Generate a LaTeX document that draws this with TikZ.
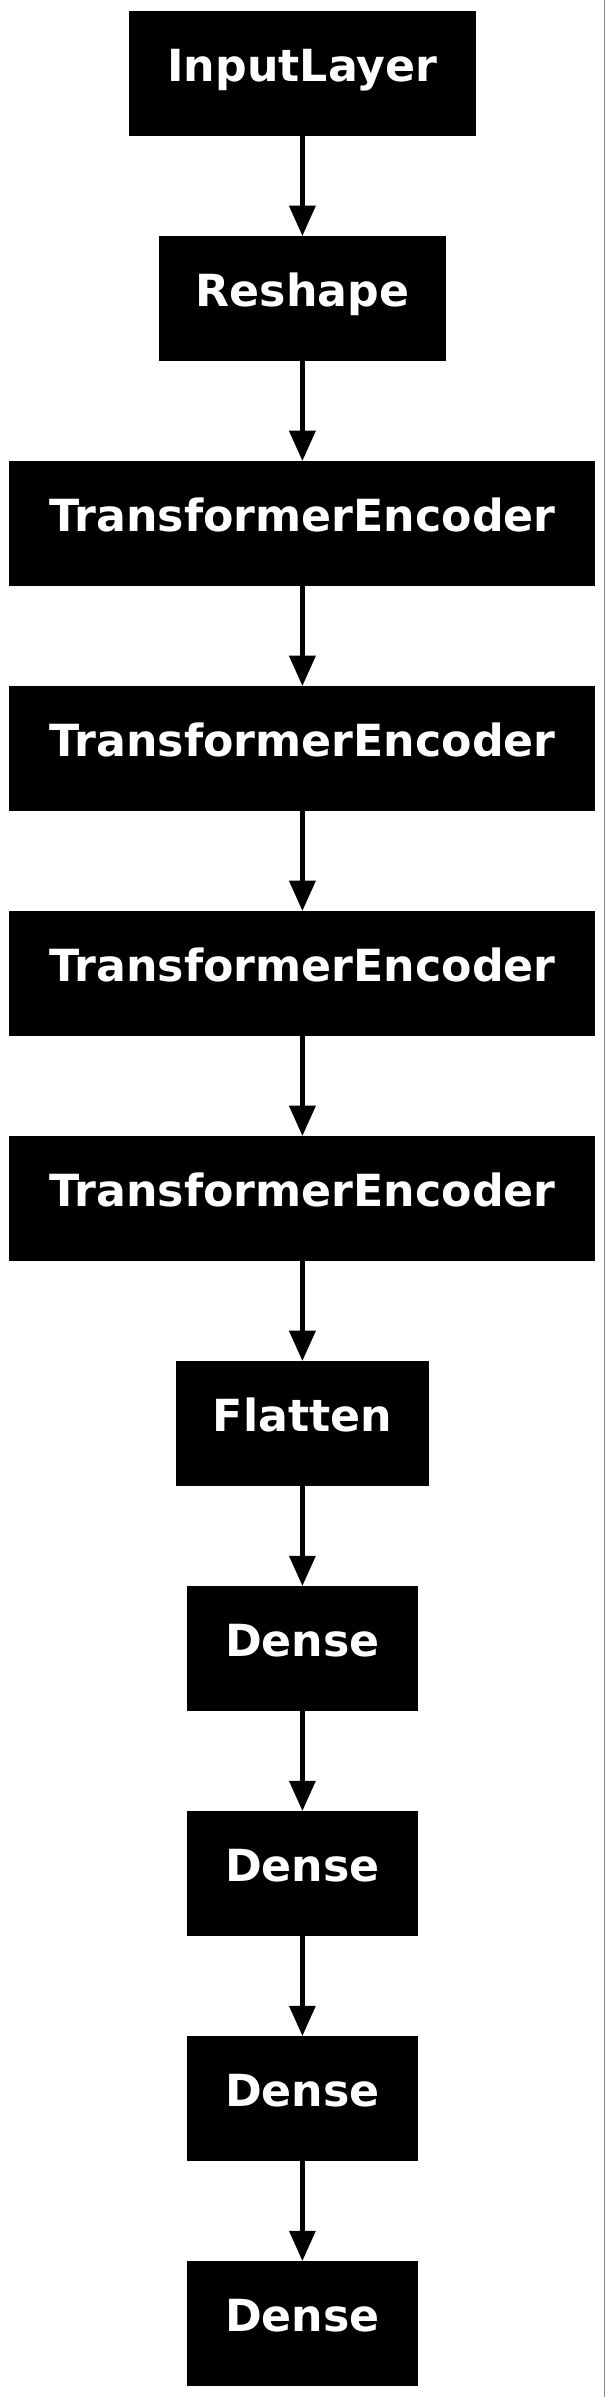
\documentclass[tikz,border=0pt]{standalone}
\usepackage{fontspec}
\setmainfont{DejaVu Sans}
\usetikzlibrary{arrows.meta}
\tikzset{
  layer/.style={fill=black, text=white, inner sep=0pt, minimum height=93.75pt,
    text height=11.7pt, text depth=0pt,
    font=\fontsize{33.2pt}{37pt}\selectfont\bfseries},
  flow/.style={draw=black, line width=3.75pt,
    -{Triangle[width=20.25pt,length=22.5pt,line width=0pt]}}
}
\begin{document}
\begin{tikzpicture}[x=0.75pt,y=-0.75pt]
\useasboundingbox (0,0) rectangle (606,2397);
\fill[white] (0,0) rectangle (606,2397);
\draw[black!47, line width=1.1pt] (604.5,0) -- (604.5,2397);
\node[layer, minimum width=260.25pt] (n0) at (302.4,73.5) {InputLayer};
\node[layer, minimum width=215.25pt] (n1) at (302.4,298.5) {Reshape};
\node[layer, minimum width=439.5pt] (n2) at (302.4,523.5) {TransformerEncoder};
\node[layer, minimum width=439.5pt] (n3) at (302.4,748.5) {TransformerEncoder};
\node[layer, minimum width=439.5pt] (n4) at (302.4,973.5) {TransformerEncoder};
\node[layer, minimum width=439.5pt] (n5) at (302.4,1198.5) {TransformerEncoder};
\node[layer, minimum width=189.75pt] (n6) at (302.4,1423.5) {Flatten};
\node[layer, minimum width=173.25pt] (n7) at (302.4,1648.5) {Dense};
\node[layer, minimum width=173.25pt] (n8) at (302.4,1873.5) {Dense};
\node[layer, minimum width=173.25pt] (n9) at (302.4,2098.5) {Dense};
\node[layer, minimum width=173.25pt] (n10) at (302.4,2323.5) {Dense};
\foreach \a/\b in {n0/n1,n1/n2,n2/n3,n3/n4,n4/n5,n5/n6,n6/n7,n7/n8,n8/n9,n9/n10}
  \draw[flow] (\a.south) -- (\b.north);
\end{tikzpicture}
\end{document}
